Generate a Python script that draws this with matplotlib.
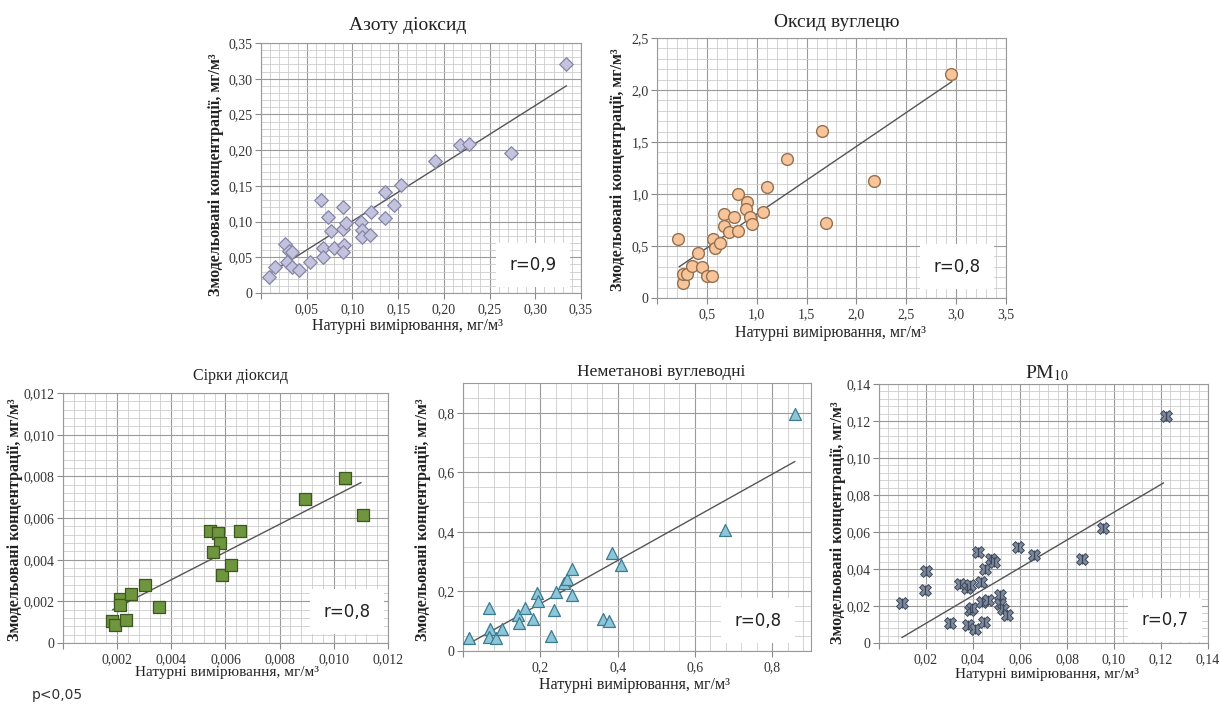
import matplotlib
matplotlib.use('Agg')
import matplotlib.pyplot as plt
from matplotlib.ticker import MultipleLocator, FuncFormatter

plt.rcParams['font.family'] = ['Liberation Serif', 'DejaVu Serif']
plt.rcParams['mathtext.fontset'] = 'stix'

# Азоту діоксид
no2_x = [0.009, 0.015, 0.026, 0.031, 0.034, 0.028, 0.034, 0.042, 0.054, 0.066, 0.073, 0.077,
         0.068, 0.068, 0.080, 0.090, 0.090, 0.091, 0.090, 0.093, 0.109, 0.111, 0.110, 0.119,
         0.120, 0.136, 0.136, 0.146, 0.153, 0.190, 0.218, 0.227, 0.273, 0.334]
no2_y = [0.023, 0.037, 0.068, 0.059, 0.057, 0.044, 0.037, 0.032, 0.044, 0.130, 0.107, 0.087,
         0.063, 0.051, 0.063, 0.121, 0.089, 0.067, 0.058, 0.098, 0.100, 0.088, 0.078, 0.081,
         0.113, 0.142, 0.105, 0.123, 0.151, 0.185, 0.207, 0.209, 0.196, 0.321]
no2_trend_x = [0.009, 0.334]
no2_trend_y = [0.027, 0.290]

# Оксид вуглецю
co_x = [0.214, 0.257, 0.257, 0.304, 0.348, 0.415, 0.448, 0.505, 0.549, 0.565, 0.582, 0.632,
        0.675, 0.675, 0.722, 0.775, 0.816, 0.816, 0.900, 0.890, 0.933, 0.950, 1.060, 1.100,
        1.301, 1.652, 1.695, 2.177, 2.946]
co_y = [0.567, 0.147, 0.231, 0.231, 0.311, 0.436, 0.301, 0.212, 0.212, 0.564, 0.478, 0.532,
        0.805, 0.692, 0.638, 0.782, 0.997, 0.647, 0.920, 0.856, 0.782, 0.712, 0.824, 1.064,
        1.333, 1.609, 0.718, 1.128, 2.154]
co_trend_x = [0.224, 2.956]
co_trend_y = [0.301, 2.080]

# Сірки діоксид
so2_x = [0.00182, 0.00194, 0.00234, 0.00212, 0.00210, 0.00253, 0.00302, 0.00353, 0.00544,
         0.00574, 0.00580, 0.00553, 0.00587, 0.00620, 0.00652, 0.00893, 0.01040, 0.01108]
so2_y = [0.00104, 0.00085, 0.00112, 0.00211, 0.00184, 0.00237, 0.00280, 0.00171, 0.00540,
         0.00528, 0.00480, 0.00435, 0.00328, 0.00376, 0.00536, 0.00691, 0.00792, 0.00613]
so2_trend_x = [0.00184, 0.0110]
so2_trend_y = [0.0016, 0.0077]

# Неметанові вуглеводні
nmhc_x = [0.016, 0.066, 0.070, 0.066, 0.085, 0.100, 0.141, 0.146, 0.160, 0.180, 0.192, 0.195,
          0.235, 0.240, 0.228, 0.260, 0.270, 0.281, 0.281, 0.363, 0.378, 0.385, 0.408, 0.678, 0.860]
nmhc_y = [0.045, 0.143, 0.073, 0.048, 0.043, 0.073, 0.121, 0.095, 0.143, 0.108, 0.194, 0.169,
          0.138, 0.199, 0.051, 0.227, 0.242, 0.274, 0.188, 0.108, 0.102, 0.330, 0.289, 0.406, 0.795]
nmhc_trend_x = [0.014, 0.858]
nmhc_trend_y = [0.024, 0.636]

# PM10
pm_x = [0.0098, 0.0195, 0.0202, 0.0301, 0.0344, 0.0373, 0.0387, 0.0377, 0.0387, 0.0394,
        0.0408, 0.0422, 0.0433, 0.0450, 0.0448, 0.0437, 0.0462, 0.0478, 0.0490, 0.0515,
        0.0515, 0.0529, 0.0543, 0.0590, 0.0661, 0.0863, 0.0951, 0.1221]
pm_y = [0.0219, 0.0286, 0.0390, 0.0110, 0.0318, 0.0295, 0.0313, 0.0096, 0.0177, 0.0192,
        0.0078, 0.0493, 0.0330, 0.0398, 0.0114, 0.0222, 0.0231, 0.0452, 0.0440, 0.0258,
        0.0213, 0.0186, 0.0150, 0.0517, 0.0475, 0.0453, 0.0623, 0.1225]
pm_trend_x = [0.0098, 0.121]
pm_trend_y = [0.003, 0.0865]

xlabel = 'Натурні вимірювання, мг/м³'
ylabel = 'Змодельовані концентрації, мг/м³'


def comma_fmt(nd, zero):
    def f(v, pos):
        if abs(v) < 1e-12:
            return zero
        return f'{v:.{nd}f}'.replace('.', ',')
    return FuncFormatter(f)


def panel(rect, xs, ys, tx, ty, xmax, ymax, xstep, xminor, ystep, yminor, nd,
          marker, title, title_pos, title_size, r_text, r_pos, xl_pos, yl_pos,
          xl_size=11.5):
    ax = fig.add_axes(rect)
    ax.set_xlim(0, xmax)
    ax.set_ylim(0, ymax)
    ax.xaxis.set_major_locator(MultipleLocator(xstep))
    ax.xaxis.set_minor_locator(MultipleLocator(xminor))
    ax.yaxis.set_major_locator(MultipleLocator(ystep))
    ax.yaxis.set_minor_locator(MultipleLocator(yminor))
    ax.xaxis.set_major_formatter(comma_fmt(nd[0], ''))
    ax.yaxis.set_major_formatter(comma_fmt(nd[1], '0'))
    ax.grid(which='major', color='#9a9a9a', lw=0.8)
    ax.grid(which='minor', color='#cccccc', lw=0.6)
    ax.set_axisbelow(True)
    ax.tick_params(which='major', direction='out', length=4, color='#888888',
                   labelsize=10, labelcolor='#333333', pad=3)
    ax.tick_params(axis='y', which='major', pad=2)
    ax.tick_params(which='minor', length=0)
    for s in ax.spines.values():
        s.set_color('#999999')
        s.set_linewidth(0.8)

    ax.plot(tx, ty, color='#555555', lw=1.0, zorder=2)
    marker(ax, xs, ys)

    ax.text(title_pos[0], title_pos[1], title, transform=ax.transAxes,
            ha='center', va='center', fontsize=title_size, color='#222222')
    ax.text(r_pos[0], r_pos[1], r_text, transform=ax.transAxes, ha='center', va='center',
            fontsize=12, family='DejaVu Sans', color='#222222', zorder=5,
            bbox=dict(boxstyle='square,pad=0.8', facecolor='white', edgecolor='none'))
    ax.set_xlabel(xlabel, fontsize=xl_size, color='#222222', va='center')
    ax.xaxis.set_label_coords(*xl_pos)
    ax.set_ylabel(ylabel, fontsize=11.5, fontweight='bold', color='#222222', va='center')
    ax.yaxis.set_label_coords(*yl_pos)
    return ax


def m_diamond(ax, x, y):
    ax.scatter(x, y, marker='D', s=48, facecolor='#c3c3de', edgecolor='#8585a8',
               linewidths=0.9, zorder=3)


def m_circle(ax, x, y):
    ax.scatter(x, y, marker='o', s=72, facecolor='#f8c59b', edgecolor='#94704f',
               linewidths=1.0, zorder=3)


def m_square(ax, x, y):
    ax.scatter(x, y, marker='s', s=70, facecolor='#6f953e', edgecolor='#3d5720',
               linewidths=0.9, zorder=3)


def m_triangle(ax, x, y):
    ax.scatter(x, y, marker='^', s=74, facecolor='#8dc6d7', edgecolor='#3b7b92',
               linewidths=0.9, zorder=3)


def m_star(ax, x, y):
    ax.scatter(x, y, marker='X', s=72, facecolor='#7d899d', edgecolor='#3e485a',
               linewidths=0.7, zorder=3)
    ax.scatter(x, y, marker='|', s=60, color='#3e485a', linewidths=1.0, zorder=4)


fig = plt.figure(figsize=(12.2, 7.11), dpi=100)

panel([0.2139, 0.5879, 0.2623, 0.3516], no2_x, no2_y, no2_trend_x, no2_trend_y,
      0.35, 0.35, 0.05, 0.01, 0.05, 0.01, (2, 2), m_diamond,
      'Азоту діоксид', (0.459, 1.072), 14, 'r=0,9', (0.85, 0.112),
      (0.459, -0.132), (-0.141, 0.472))

panel([0.5385, 0.5809, 0.2861, 0.3657], co_x, co_y, co_trend_x, co_trend_y,
      3.5, 2.5, 0.5, 0.1, 0.5, 0.1, (1, 1), m_circle,
      'Оксид вуглецю', (0.515, 1.058), 14, 'r=0,8', (0.86, 0.12),
      (0.496, -0.135), (-0.112, 0.492))

panel([0.0516, 0.0956, 0.2664, 0.3516], so2_x, so2_y, so2_trend_x, so2_trend_y,
      0.012, 0.012, 0.002, 0.0004, 0.002, 0.0004, (3, 3), m_square,
      'Сірки діоксид', (0.547, 1.068), 11.5, 'r=0,8', (0.873, 0.125),
      (0.504, -0.118), (-0.148, 0.492), 11)

panel([0.3795, 0.0844, 0.2852, 0.3769], nmhc_x, nmhc_y, nmhc_trend_x, nmhc_trend_y,
      0.9, 0.9, 0.2, 0.04, 0.2, 0.05, (1, 1), m_triangle,
      'Неметанові вуглеводні', (0.571, 1.042), 12.5, 'r=0,8', (0.849, 0.113),
      (0.494, -0.127), (-0.115, 0.489))

panel([0.7205, 0.0956, 0.2697, 0.3643], pm_x, pm_y, pm_trend_x, pm_trend_y,
      0.14, 0.14, 0.02, 0.004, 0.02, 0.004, (2, 2), m_star,
      'PM$_{10}$', (0.51, 1.042), 14, 'r=0,7', (0.87, 0.089),
      (0.51, -0.12), (-0.125, 0.463), 11)

fig.text(0.026, 0.0225, 'p<0,05', fontsize=10, family='DejaVu Sans', color='#333333',
         ha='left', va='center')

fig.savefig('out.png', dpi=100, facecolor='white')
